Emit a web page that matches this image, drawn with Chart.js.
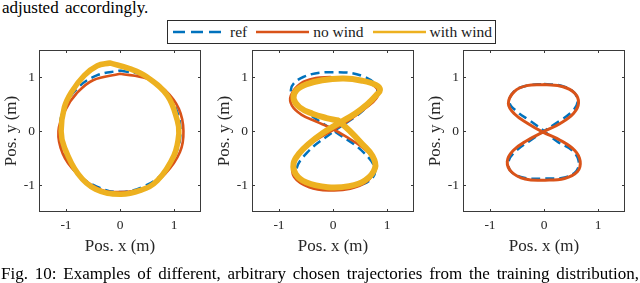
<!DOCTYPE html>
<html>
<head>
<meta charset="utf-8">
<script src="https://cdn.jsdelivr.net/npm/chart.js@4/dist/chart.umd.min.js"></script>
<style>
  html, body { margin: 0; padding: 0; background: #fff; }
  body { width: 640px; height: 283px; position: relative; overflow: hidden;
         font-family: 'Liberation Serif', 'Times New Roman', serif; color: #000; }
  canvas { position: absolute; left: 0; top: 0; }
  #toptext { position: absolute; left: 2px; top: -1px; font-size: 17px; line-height: 17px; white-space: nowrap; word-spacing: 2px; }
  #caption { position: absolute; left: 1px; top: 265px; width: 638px; font-size: 17px; line-height: 17px;
             text-align: justify; text-align-last: justify; }
  #legend { position: absolute; left: 167px; top: 20px; width: 327px; height: 22px;
            border: 1px solid #2b2b2b; background: #fff; display: flex; align-items: center;
            font-size: 15.5px; color: #1a1a1a; }
  #legend .item { display: flex; align-items: center; }
  #legend svg { display: block; }
</style>
</head>
<body>
<div id="toptext">adjusted accordingly.</div>
<div id="legend"></div>
<canvas id="c1" width="640" height="283"></canvas>
<canvas id="c2" width="640" height="283"></canvas>
<canvas id="c3" width="640" height="283"></canvas>
<div id="caption">Fig. 10: Examples of different, arbitrary chosen trajectories from the training distribution,</div>
<script>
// ---------- data ----------
const seriesLabels = ['ref', 'no wind', 'with wind'];
const tickValues = [-1, 0, 1];
const tickLabels = ['-1', '0', '1'];
const xTitle = 'Pos. x (m)';
const yTitle = 'Pos. y (m)';

// Panel 1 (circle)
const p1RefX = [0, 0.43, 0.79, 1.03, 1.12, 1.03, 0.79, 0.43, 0, -0.43, -0.79, -1.03, -1.12, -1.03, -0.79, -0.43, 0];
const p1RefY = [1.12, 1.03, 0.79, 0.43, 0, -0.43, -0.79, -1.03, -1.13, -1.03, -0.79, -0.43, 0, 0.43, 0.79, 1.03, 1.12];
const p1NoWindX = [0, 0.5, 0.84, 1.09, 1.175, 1.11, 0.84, 0.5, 0, -0.4, -0.82, -1.06, -1.14, -1.0, -0.81, -0.5, 0];
const p1NoWindY = [1.06, 0.97, 0.75, 0.41, 0, -0.39, -0.79, -1.04, -1.13, -1.07, -0.76, -0.42, 0, 0.41, 0.69, 0.94, 1.06];
const p1WindX = [-0.19, 0.19, 0.5, 0.875, 1.06, 1.09, 1.0, 0.69, 0.375, 0, -0.45, -0.78, -1.03, -1.09, -1.03, -0.9, -0.66, -0.42, -0.19];
const p1WindY = [1.26, 1.15, 1.0, 0.66, 0.2, -0.05, -0.45, -0.92, -1.1, -1.17, -1.08, -0.79, -0.3, 0, 0.44, 0.72, 1.03, 1.21, 1.26];

// Panel 2 (large figure eight)
const p2RefX = [0.02, 0.59, 0.82, 0.59, 0.02, -0.55, -0.78, -0.55, 0.02, 0.57, 0.78, 0.57, 0.02, -0.48, -0.68, -0.48, 0.02];
const p2RefY = [0, 0.41, 0.76, 1.0, 1.09, 1.0, 0.76, 0.41, 0, -0.4, -0.75, -0.98, -1.06, -0.98, -0.75, -0.4, 0];
const p2NoWindX = [-0.05, 0.35, 0.65, 0.83, 0.8, 0.6, 0.3, 0.02, -0.32, -0.6, -0.74, -0.72, -0.44, -0.05, 0.32, 0.62, 0.77, 0.74, 0.54, 0.25, -0.05, -0.3, -0.58, -0.76, -0.78, -0.6, -0.32, -0.05];
const p2NoWindY = [1.0, 0.98, 0.9, 0.76, 0.6, 0.42, 0.2, 0.03, -0.17, -0.38, -0.6, -0.85, -1.04, -1.1, -1.07, -0.94, -0.72, -0.5, -0.3, -0.11, 0.06, 0.17, 0.3, 0.47, 0.66, 0.88, 0.98, 1.0];
const p2WindX = [0.1, -0.12, -0.38, -0.62, -0.73, -0.68, -0.5, -0.2, 0.2, 0.54, 0.8, 0.87, 0.8, 0.64, 0.42, 0.12, -0.18, -0.44, -0.63, -0.73, -0.69, -0.5, -0.1, 0.3, 0.6, 0.78, 0.73, 0.54, 0.3, 0.1];
const p2WindY = [0.19, 0.24, 0.32, 0.44, 0.6, 0.75, 0.86, 0.94, 0.97, 0.93, 0.85, 0.76, 0.66, 0.5, 0.33, 0.15, -0.03, -0.23, -0.42, -0.6, -0.8, -0.95, -1.04, -1.02, -0.91, -0.68, -0.46, -0.24, 0.01, 0.19];

// Panel 3 (small figure eight)
const p3RefX = [0, 0.35, 0.56, 0.62, 0.52, 0.28, 0, -0.26, -0.52, -0.66, -0.6, -0.35, 0.02, 0.38, 0.6, 0.64, 0.52, 0.25, 0, -0.26, -0.5, -0.64, -0.56, -0.32, 0];
const p3RefY = [0.87, 0.83, 0.71, 0.53, 0.36, 0.18, 0, -0.18, -0.37, -0.57, -0.76, -0.87, -0.88, -0.86, -0.74, -0.55, -0.36, -0.2, 0, 0.19, 0.36, 0.53, 0.73, 0.84, 0.87];
const p3NoWindX = [0, 0.35, 0.57, 0.64, 0.55, 0.3, -0.02, -0.32, -0.57, -0.68, -0.6, -0.35, 0.02, 0.38, 0.62, 0.67, 0.57, 0.3, -0.02, -0.3, -0.55, -0.66, -0.55, -0.32, 0];
const p3NoWindY = [0.86, 0.82, 0.7, 0.52, 0.33, 0.14, -0.02, -0.18, -0.36, -0.56, -0.76, -0.89, -0.91, -0.88, -0.75, -0.56, -0.36, -0.17, -0.02, 0.14, 0.32, 0.51, 0.73, 0.84, 0.86];

// ---------- styling ----------
const colors = ['#0072BD', '#D95319', '#EDB120'];
const fontFamily = "'Liberation Serif', 'Times New Roman', serif";
const textColor = '#262626';

function pts(xs, ys) { return xs.map((x, i) => ({ x: x, y: ys[i] })); }

function ds(kind, xs, ys, width) {
  const base = {
    label: seriesLabels[kind],
    data: pts(xs, ys),
    showLine: true,
    borderColor: colors[kind],
    backgroundColor: colors[kind],
    pointRadius: 0,
    pointHoverRadius: 0,
    tension: 0.4,
    fill: false,
    borderJoinStyle: 'round'
  };
  if (kind === 0) { base.borderWidth = 2.5; base.borderDash = [9, 5]; base.order = 2; }
  if (kind === 1) { base.borderWidth = width || 2.6; base.order = 1; base.borderCapStyle = 'round'; }
  if (kind === 2) { base.borderWidth = width || 5.5; base.order = 0; base.borderCapStyle = 'round'; }
  return base;
}

const framePlugin = {
  id: 'frame',
  afterDatasetsDraw(chart) {
    const { ctx, chartArea: a, scales } = chart;
    const L = 3;
    ctx.save();
    ctx.strokeStyle = '#3a3a3a';
    ctx.lineWidth = 1;
    ctx.strokeRect(a.left + 0.5, a.top + 0.5, a.right - a.left - 1, a.bottom - a.top - 1);
    ctx.beginPath();
    scales.x.ticks.forEach(t => {
      const px = Math.round(scales.x.getPixelForValue(t.value)) + 0.5;
      ctx.moveTo(px, a.bottom); ctx.lineTo(px, a.bottom - L);
      ctx.moveTo(px, a.top); ctx.lineTo(px, a.top + L);
    });
    scales.y.ticks.forEach(t => {
      const py = Math.round(scales.y.getPixelForValue(t.value)) + 0.5;
      ctx.moveTo(a.left, py); ctx.lineTo(a.left + L, py);
      ctx.moveTo(a.right, py); ctx.lineTo(a.right - L, py);
    });
    ctx.stroke();
    ctx.restore();
  }
};

function axis(isX) {
  return {
    type: 'linear', min: -1.5, max: 1.5,
    afterBuildTicks: s => { s.ticks = tickValues.map(v => ({ value: v })); },
    afterFit: s => { if (isX) s.height = 45; else s.width = 39; },
    grid: { display: false, drawTicks: false },
    border: { display: false },
    ticks: {
      color: textColor, padding: isX ? 5 : 4,
      font: { family: fontFamily, size: 13.5 },
      callback: v => tickLabels[tickValues.indexOf(v)]
    },
    title: {
      display: true, text: isX ? xTitle : yTitle, color: textColor,
      font: { family: fontFamily, size: 17 },
      padding: isX ? { top: 0, bottom: 0 } : { top: 1, bottom: 0 }
    }
  };
}

function makePanel(id, left, datasets) {
  return new Chart(document.getElementById(id), {
    type: 'scatter',
    data: { datasets: datasets },
    options: {
      responsive: false, animation: false, events: [],
      layout: { padding: { left: left - 39, right: 640 - left - 162, top: 50, bottom: 26 } },
      plugins: { legend: { display: false }, tooltip: { enabled: false } },
      scales: { x: axis(true), y: axis(false) }
    },
    plugins: [framePlugin]
  });
}

const ch1 = makePanel('c1', 39, [ds(0, p1RefX, p1RefY), ds(1, p1NoWindX, p1NoWindY), ds(2, p1WindX, p1WindY)]);
makePanel('c2', 252, [ds(0, p2RefX, p2RefY), ds(1, p2NoWindX, p2NoWindY), ds(2, p2WindX, p2WindY, 6)]);
makePanel('c3', 463, [ds(0, p3RefX, p3RefY), ds(1, p3NoWindX, p3NoWindY, 3)]);

// ---------- shared legend (built from the dataset labels/colours) ----------
const legend = document.getElementById('legend');
ch1.data.datasets.forEach((d, i) => {
  const item = document.createElement('div');
  item.className = 'item';
  item.style.marginLeft = i === 0 ? '5px' : '9px';
  const svgNS = 'http://www.w3.org/2000/svg';
  const svg = document.createElementNS(svgNS, 'svg');
  svg.setAttribute('width', '53'); svg.setAttribute('height', '10');
  const ln = document.createElementNS(svgNS, 'line');
  ln.setAttribute('x1', '0'); ln.setAttribute('x2', '53');
  ln.setAttribute('y1', '5'); ln.setAttribute('y2', '5');
  ln.setAttribute('stroke', d.borderColor);
  ln.setAttribute('stroke-width', '2.5');
  if (d.borderDash) ln.setAttribute('stroke-dasharray', '12 6');
  svg.appendChild(ln);
  const txt = document.createElement('span');
  txt.textContent = d.label;
  txt.style.marginLeft = '4px';
  item.appendChild(svg); item.appendChild(txt);
  legend.appendChild(item);
});
</script>
</body>
</html>
